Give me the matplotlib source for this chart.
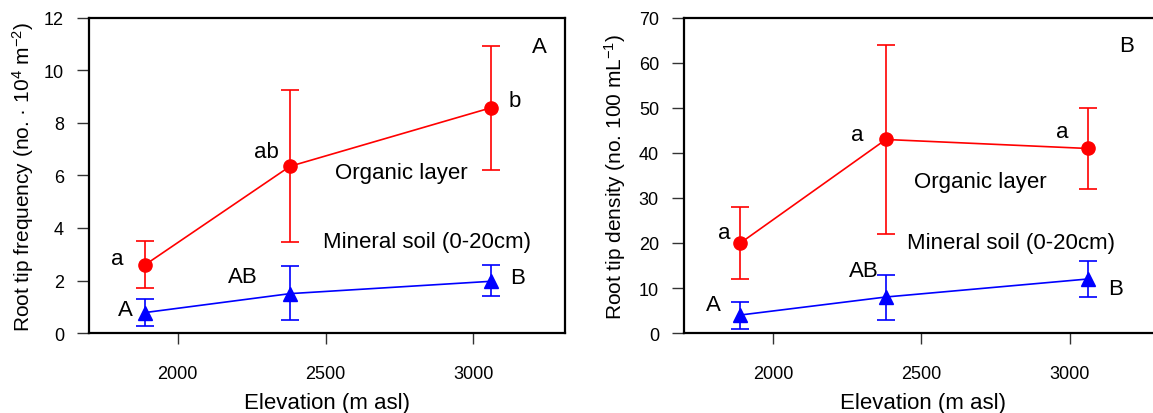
import matplotlib
matplotlib.use("Agg")
import matplotlib.pyplot as plt
import numpy as np

plt.rcParams['font.family'] = ['Liberation Sans', 'DejaVu Sans']
plt.rcParams['mathtext.fontset'] = 'custom'
plt.rcParams['mathtext.rm'] = 'Liberation Sans'
plt.rcParams['mathtext.it'] = 'Liberation Sans'
plt.rcParams['mathtext.default'] = 'regular'

# elevation of the three sites (m asl)
elev = [1890, 2380, 3060]

# panel A: root tip frequency (no. 10^4 m^-2)
freq_org = [2.6, 6.35, 8.58]
freq_org_lo = [1.7, 3.45, 6.2]
freq_org_hi = [3.5, 9.25, 10.95]
freq_min = [0.78, 1.5, 1.97]
freq_min_lo = [0.25, 0.5, 1.4]
freq_min_hi = [1.3, 2.55, 2.6]
freq_org_letters = ['a', 'ab', 'b']
freq_min_letters = ['A', 'AB', 'B']

# panel B: root tip density (no. 100 mL^-1)
dens_org = [20, 43, 41]
dens_org_lo = [12, 22, 32]
dens_org_hi = [28, 64, 50]
dens_min = [4, 8, 12]
dens_min_lo = [1, 3, 8]
dens_min_hi = [7, 13, 16]
dens_org_letters = ['a', 'a', 'a']
dens_min_letters = ['A', 'AB', 'B']

xticks = [2000, 2500, 3000]
fs = 16


def draw(ax, org, olo, ohi, mn, mlo, mhi):
    oerr = [np.array(org) - np.array(olo), np.array(ohi) - np.array(org)]
    merr = [np.array(mn) - np.array(mlo), np.array(mhi) - np.array(mn)]
    ax.errorbar(elev, org, yerr=oerr, color='red', marker='o', ms=9.5,
                lw=1.2, elinewidth=1.2, capsize=6.5, capthick=1.2, clip_on=False)
    ax.errorbar(elev, mn, yerr=merr, color='blue', marker='^', ms=9.5,
                lw=1.2, elinewidth=1.2, capsize=6.5, capthick=1.2, clip_on=False)
    ax.set_xlim(1700, 3310)
    ax.set_xticks(xticks)
    for s in ax.spines.values():
        s.set_linewidth(1.6)
    ax.tick_params(direction='out', width=1, labelsize=13, color='#333333')
    ax.tick_params(axis='x', length=8, pad=15)
    ax.tick_params(axis='y', length=9, pad=9)
    ax.set_xlabel('Elevation (m asl)', fontsize=fs, labelpad=7)


fig = plt.figure(figsize=(11.53, 4.14), dpi=100)
ax1 = fig.add_axes([0.0772, 0.1932, 0.4128, 0.761])
ax2 = fig.add_axes([0.5932, 0.1932, 0.4146, 0.761])

draw(ax1, freq_org, freq_org_lo, freq_org_hi, freq_min, freq_min_lo, freq_min_hi)
ax1.set_ylim(0, 12)
ax1.set_yticks(range(0, 13, 2))
ax1.set_ylabel('Root tip frequency (no. \u00b7 10$^4$ m$^{-2}$)', fontsize=15, labelpad=6)
ax1.text(3225, 10.9, 'A', fontsize=fs, ha='center', va='center')
ax1.text(1795, 2.82, freq_org_letters[0], fontsize=fs, ha='center', va='center')
ax1.text(2299, 6.93, freq_org_letters[1], fontsize=fs, ha='center', va='center')
ax1.text(3141, 8.84, freq_org_letters[2], fontsize=fs, ha='center', va='center')
ax1.text(1822, 0.88, freq_min_letters[0], fontsize=fs, ha='center', va='center')
ax1.text(2221, 2.17, freq_min_letters[1], fontsize=fs, ha='center', va='center')
ax1.text(3148, 2.13, freq_min_letters[2], fontsize=fs, ha='center', va='center')
ax1.text(2755, 6.13, 'Organic layer', fontsize=fs, ha='center', va='center')
ax1.text(2843, 3.5, 'Mineral soil (0-20cm)', fontsize=fs, ha='center', va='center')

draw(ax2, dens_org, dens_org_lo, dens_org_hi, dens_min, dens_min_lo, dens_min_hi)
ax2.set_ylim(0, 70)
ax2.set_yticks(range(0, 71, 10))
ax2.set_ylabel('Root tip density (no. 100 mL$^{-1}$)', fontsize=15, labelpad=8)
ax2.text(3192, 63.8, 'B', fontsize=fs, ha='center', va='center')
ax2.text(1835, 22.4, dens_org_letters[0], fontsize=fs, ha='center', va='center')
ax2.text(2283, 44.2, dens_org_letters[1], fontsize=fs, ha='center', va='center')
ax2.text(2973, 44.7, dens_org_letters[2], fontsize=fs, ha='center', va='center')
ax2.text(1798, 6.4, dens_min_letters[0], fontsize=fs, ha='center', va='center')
ax2.text(2306, 14.0, dens_min_letters[1], fontsize=fs, ha='center', va='center')
ax2.text(3152, 9.8, dens_min_letters[2], fontsize=fs, ha='center', va='center')
ax2.text(2697, 33.6, 'Organic layer', fontsize=fs, ha='center', va='center')
ax2.text(2801, 20.2, 'Mineral soil (0-20cm)', fontsize=fs, ha='center', va='center')

fig.savefig('out.png', dpi=100)
